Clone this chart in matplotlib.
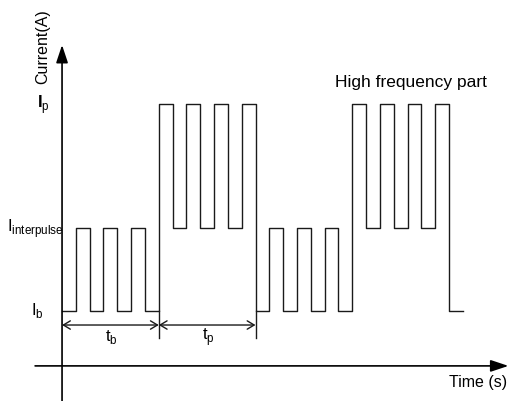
import numpy as np
import matplotlib
matplotlib.use('Agg')
import matplotlib.pyplot as plt

plt.rcParams['font.family'] = ['Liberation Sans', 'DejaVu Sans']
plt.rcParams['mathtext.fontset'] = 'custom'
plt.rcParams['mathtext.rm'] = 'Liberation Sans'
plt.rcParams['mathtext.bf'] = 'Liberation Sans:bold'

# current levels (arbitrary units)
I_b = 1
I_inter = 3
I_p = 6

# one level per time slot, 7 slots per phase (tb, tp, tb, tp) + 1 slot tail
background = [I_b, I_inter, I_b, I_inter, I_b, I_inter, I_b]
peak = [I_p, I_inter, I_p, I_inter, I_p, I_inter, I_p]
levels = background + peak + background + peak + [I_b]
times = np.arange(len(levels) + 1)
t_b = 7
t_p = 7

fig = plt.figure(figsize=(5.11, 4.01), dpi=100)
ax = fig.add_axes([0, 0, 1, 1])
ax.set_xlim(-4.49, 32.49)
ax.set_ylim(-1.18, 8.53)
ax.axis('off')

# waveform
ax.step(times, levels + [levels[-1]], where='post', color='#1a1a1a', lw=1.0)

# axes with filled arrow heads
axis_arrow = dict(arrowstyle='-|>,head_length=1.08,head_width=0.36',
                  mutation_scale=10, color='black', lw=1.2,
                  shrinkA=0, shrinkB=0)
ax.annotate('', xy=(0, 7.44), xytext=(0, -1.2), arrowprops=axis_arrow)
ax.annotate('', xy=(32.3, -0.33), xytext=(-1.95, -0.33), arrowprops=axis_arrow)

# dimension lines for t_b and t_p
dim_y = 0.66
ext_bottom = 0.35
ax.plot([t_b, t_b], [ext_bottom, I_b], color='#1a1a1a', lw=1.0)
ax.plot([t_b + t_p, t_b + t_p], [ext_bottom, I_b], color='#1a1a1a', lw=1.0)
dim_arrow = dict(arrowstyle='<->,head_length=0.5,head_width=0.3',
                 mutation_scale=10, color='#1a1a1a', lw=1.0,
                 shrinkA=0, shrinkB=0)
ax.annotate('', xy=(0, dim_y), xytext=(t_b, dim_y), arrowprops=dim_arrow)
ax.annotate('', xy=(t_b, dim_y), xytext=(t_b + t_p, dim_y), arrowprops=dim_arrow)

# labels
ax.text(3.6, 0.37, r't$_{\rm b}$', fontsize=12, ha='center', va='center')
ax.text(10.56, 0.37, r't$_{\rm p}$', fontsize=12, ha='center', va='center')
ax.text(-1.37, I_p, r'$\mathbf{I}_{\rm p}$', fontsize=12, ha='center', va='center')
ax.text(-1.95, I_inter, r'I$_{\rm interpulse}$', fontsize=12, ha='center', va='center')
ax.text(-1.8, I_b, r'I$_{\rm b}$', fontsize=12, ha='center', va='center')

ax.text(-1.37, 7.39, 'Current(A)', fontsize=11.5, rotation=90,
        ha='center', va='center')
ax.text(28.0, -0.72, 'Time (s)', fontsize=11.5, ha='left', va='center')
ax.text(19.75, 6.54, 'High frequency part', fontsize=12.5, ha='left', va='center')

fig.savefig('out.png', dpi=100)
